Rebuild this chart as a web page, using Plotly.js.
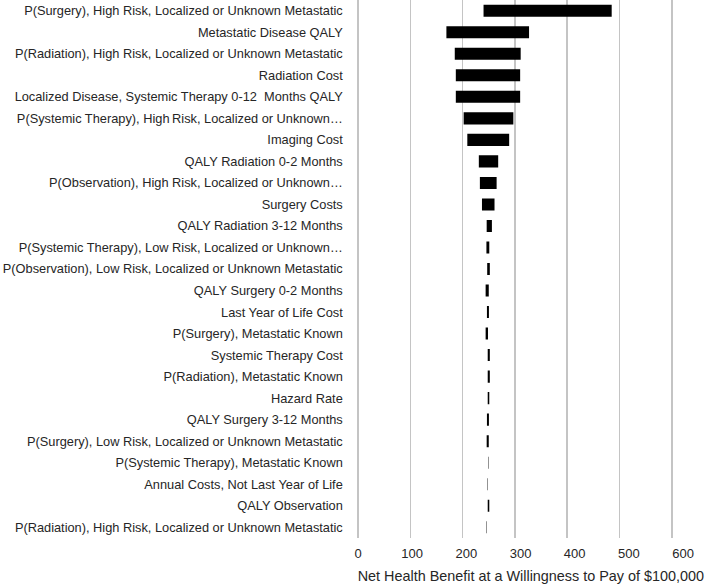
<!DOCTYPE html>
<html>
<head>
<meta charset="utf-8">
<script src="https://cdn.plot.ly/plotly-3.0.1.min.js"></script>
<style>html,body{margin:0;padding:0;background:#fff;}#chart{width:709px;height:584px;}</style>
</head>
<body>
<div id="chart"></div>
<script>
const labels = [
  "P(Surgery), High Risk, Localized or Unknown Metastatic",
  "Metastatic Disease QALY",
  "P(Radiation), High Risk, Localized or Unknown Metastatic",
  "Radiation Cost",
  "Localized Disease, Systemic Therapy 0-12  Months QALY",
  "P(Systemic Therapy), High\u2009Risk, Localized or Unknown\u2026",
  "Imaging Cost",
  "QALY Radiation 0-2 Months",
  "P(Observation), High Risk, Localized or Unknown\u2026",
  "Surgery Costs",
  "QALY Radiation 3-12 Months",
  "P(Systemic Therapy), Low Risk, Localized or Unknown\u2026",
  "P(Observation), Low Risk, Localized or Unknown Metastatic",
  "QALY Surgery 0-2 Months",
  "Last Year of Life Cost",
  "P(Surgery), Metastatic Known",
  "Systemic Therapy Cost",
  "P(Radiation), Metastatic Known",
  "Hazard Rate",
  "QALY Surgery 3-12 Months",
  "P(Surgery), Low Risk, Localized or Unknown Metastatic",
  "P(Systemic Therapy), Metastatic Known",
  "Annual Costs, Not Last Year of Life",
  "QALY Observation",
  "P(Radiation), High Risk, Localized or Unknown Metastatic"
];
const lowValues  = [240, 169, 185, 187, 187, 202, 209, 231, 233, 237, 246, 245.5, 247, 244, 246.5, 244, 248, 248, 248, 246.5, 246, 249, 247.5, 248, 245.8];
const highValues = [485, 327, 311, 310, 310, 297, 289, 268, 265, 261, 256, 251, 252, 250, 250.3, 248.5, 252, 252, 251, 250.3, 250, 249.8, 248.3, 251, 246.6];
const xTickValues = [0, 100, 200, 300, 400, 500, 600];
const xTitle = 'Net Health Benefit at a Willingness to Pay of $100,000';

const rowIndex = labels.map((_, i) => i);
const widths = highValues.map((h, i) => h - lowValues[i]);

const trace = {
  type: 'bar',
  orientation: 'h',
  y: rowIndex,
  x: widths,
  base: lowValues,
  marker: {color: '#000000', line: {width: 0}},
  width: 0.56,
  hoverinfo: 'skip',
  showlegend: false
};

const axisCarrier = {
  type: 'scatter', mode: 'markers', x: [0], y: [0],
  xaxis: 'x2', yaxis: 'y',
  marker: {opacity: 0, size: 1}, hoverinfo: 'skip', showlegend: false
};

const px1 = 340 / 650;      // gridline scale (px per unit)
const px2 = 0.5417;         // tick-label scale (px per unit)
const leftPad = 10 * px1;   // px between domain start and value 0
const dom1 = [(358 - leftPad) / 709, 1];
const domWidthPx = 709 - (358 - leftPad);
const x2Start = -leftPad / px2;
const layout = {
  width: 709,
  height: 584,
  margin: {l: 0, r: 0, t: 0, b: 46},
  paper_bgcolor: '#ffffff',
  plot_bgcolor: 'rgba(0,0,0,0)',
  font: {family: 'Liberation Sans, Arial, sans-serif', color: '#262626', size: 12},
  xaxis: {
    domain: dom1,
    range: [-10, -10 + domWidthPx / px1],
    tickvals: xTickValues,
    showticklabels: false,
    showgrid: true,
    gridcolor: '#c4c4c4',
    gridwidth: 1.5,
    zeroline: false,
    showline: false,
    ticks: ''
  },
  xaxis2: {
    overlaying: 'x',
    anchor: 'y',
    side: 'bottom',
    range: [x2Start, x2Start + domWidthPx / px2],
    tickvals: xTickValues,
    ticktext: xTickValues.map(String),
    showgrid: false,
    zeroline: false,
    showline: false,
    ticks: '',
    ticklabelstandoff: 6,
    tickfont: {size: 13, color: '#262626'},
    title: {text: xTitle, font: {size: 14.4, color: '#262626'}, standoff: 10}
  },
  yaxis: {
    range: [labels.length - 0.5, -0.5],
    tickvals: rowIndex,
    ticktext: labels,
    showgrid: false,
    zeroline: false,
    showline: false,
    ticks: '',
    ticklabelstandoff: 9,
    tickfont: {size: 12.8, color: '#262626'},
    automargin: false
  }
};

Plotly.newPlot('chart', [trace, axisCarrier], layout, {displayModeBar: false, staticPlot: true});
</script>
</body>
</html>
